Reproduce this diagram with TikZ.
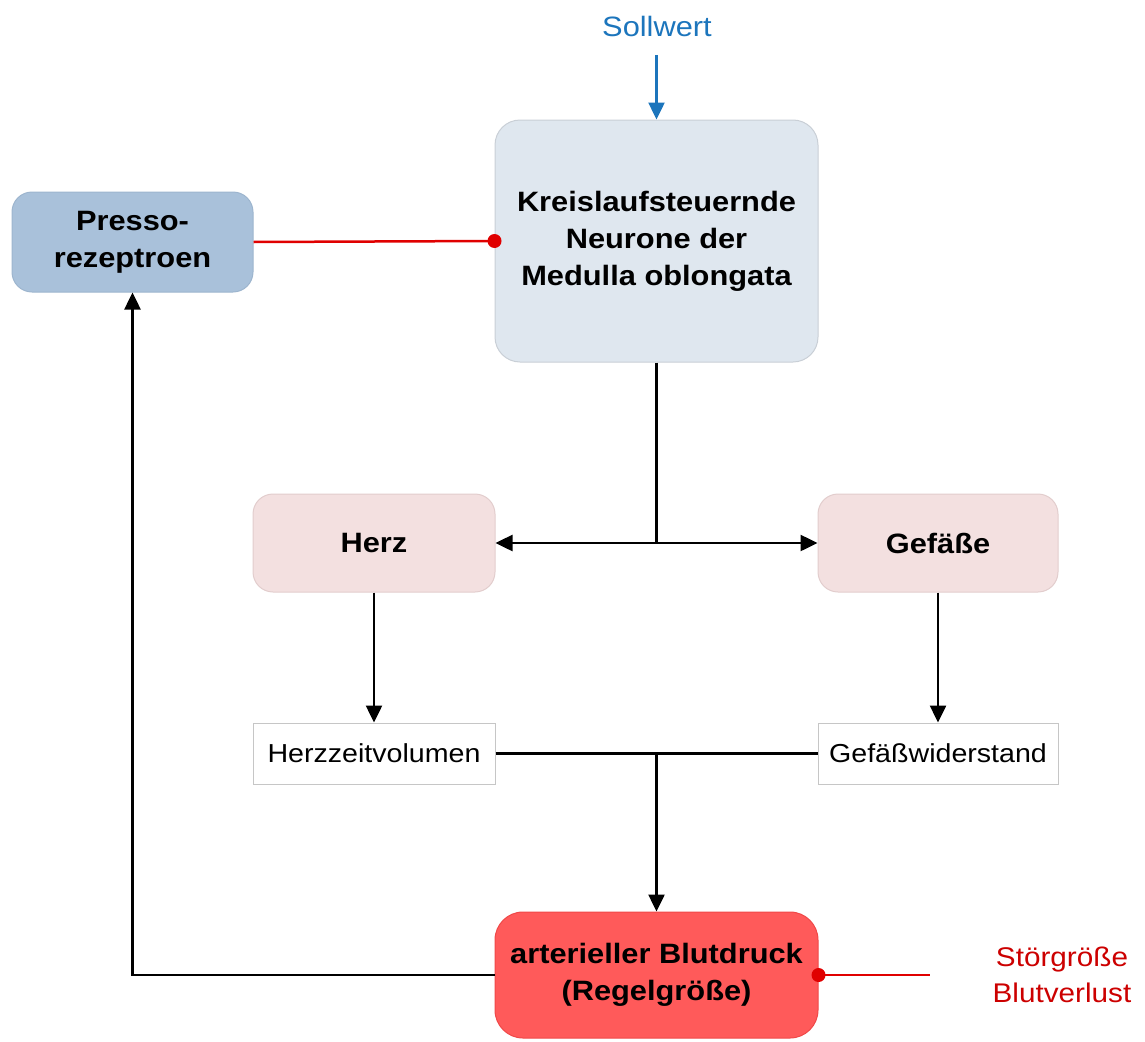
\documentclass[tikz,border=0pt]{standalone}
\usepackage{fontspec}
\setmainfont{Liberation Sans}[FakeStretch=1.1]
\usetikzlibrary{arrows.meta}
\definecolor{mainfill}{HTML}{DFE7EF}
\definecolor{mainedge}{HTML}{C9CFD6}
\definecolor{pressofill}{HTML}{A9C1DA}
\definecolor{pressoedge}{HTML}{9DB5CE}
\definecolor{pinkfill}{HTML}{F3E0E0}
\definecolor{pinkedge}{HTML}{E2CDCD}
\definecolor{redfill}{HTML}{FF5A5A}
\definecolor{rededge}{HTML}{F04848}
\definecolor{sollblue}{HTML}{1C75BC}
\definecolor{linered}{HTML}{E00000}
\definecolor{textred}{HTML}{CC0000}
\tikzset{
  boldtxt/.style={font=\bfseries\fontsize{28}{37}\selectfont, align=center, text=black},
  normtxt/.style={font=\fontsize{26}{34}\selectfont, align=center, text=black},
  rbox/.style={draw, line width=1pt, inner sep=0pt, rounded corners=#1},
  plainbox/.style={draw=gray!45, line width=1pt, fill=white, inner sep=0pt},
  conn/.style={line width=2.5pt, draw=black},
  arr/.style={conn, -{Triangle[length=17pt,width=16pt]}},
  darr/.style={conn, {Triangle[length=17pt,width=16pt]}-{Triangle[length=17pt,width=16pt]}},
  redconn/.style={line width=2.5pt, draw=linered},
}
\begin{document}
\begin{tikzpicture}[x=1pt,y=-1pt]
\useasboundingbox (0,0) rectangle (1145,1041);

\node[boldtxt, rbox=25pt, fill=mainfill, draw=mainedge, minimum width=323pt, minimum height=242pt] (main) at (656.5,241) {Kreislaufsteuernde\\Neurone der\\Medulla oblongata};
\node[boldtxt, rbox=20pt, fill=pressofill, draw=pressoedge, minimum width=241pt, minimum height=100pt] (presso) at (132.5,242) {Presso-\\rezeptroen};
\node[boldtxt, rbox=20pt, fill=pinkfill, draw=pinkedge, minimum width=242pt, minimum height=98pt] (herz) at (374,543) {Herz};
\node[boldtxt, rbox=20pt, fill=pinkfill, draw=pinkedge, minimum width=240pt, minimum height=98pt] (gef) at (938,543) {Gefäße};
\node[normtxt, plainbox, minimum width=242pt, minimum height=61pt] (hzv) at (374,753.5) {Herzzeitvolumen};
\node[normtxt, plainbox, minimum width=240pt, minimum height=61pt] (gw) at (938,753.5) {Gefäßwiderstand};
\node[boldtxt, rbox=28pt, fill=redfill, draw=rededge, minimum width=323pt, minimum height=126pt] (bp) at (656.5,975) {arterieller Blutdruck\\(Regelgröße)};

\node[font=\fontsize{28}{34}\selectfont, text=sollblue] (soll) at (657,26) {Sollwert};
\node[font=\fontsize{27}{36}\selectfont, text=textred, align=center] (stoer) at (1062,975) {Störgröße\\Blutverlust};

\coordinate (sollstart) at (656.5,55);
\coordinate (stoerend) at (930,975);

% Sollwert arrow
\draw[line width=2.5pt, draw=sollblue, -{Triangle[length=17pt,width=16pt]}, sollblue] (sollstart) -- (main.north);

% Presso -> main (red, dot)
\draw[redconn] (presso.east) -- (main.west);
\fill[linered] (main.west) circle (7pt);

% main -> Herz / Gefäße
\coordinate (j1) at (main.south |- herz.east);
\draw[conn] (main.south) -- (j1);
\draw[darr] (herz.east) -- (gef.west);

% down arrows
\draw[arr] (herz.south) -- (hzv.north);
\draw[arr] (gef.south) -- (gw.north);

% merge to blood pressure
\draw[conn] (hzv.east) -- (gw.west);
\coordinate (j2) at (hzv.east -| bp.north);
\draw[arr] (j2) -- (bp.north);

% feedback to Presso
\coordinate (j3) at (presso.south |- bp.west);
\draw[arr] (bp.west) -- (j3) -- (presso.south);

% disturbance
\draw[redconn] (bp.east) -- (stoerend);
\fill[linered] (bp.east) circle (7pt);
\end{tikzpicture}
\end{document}
